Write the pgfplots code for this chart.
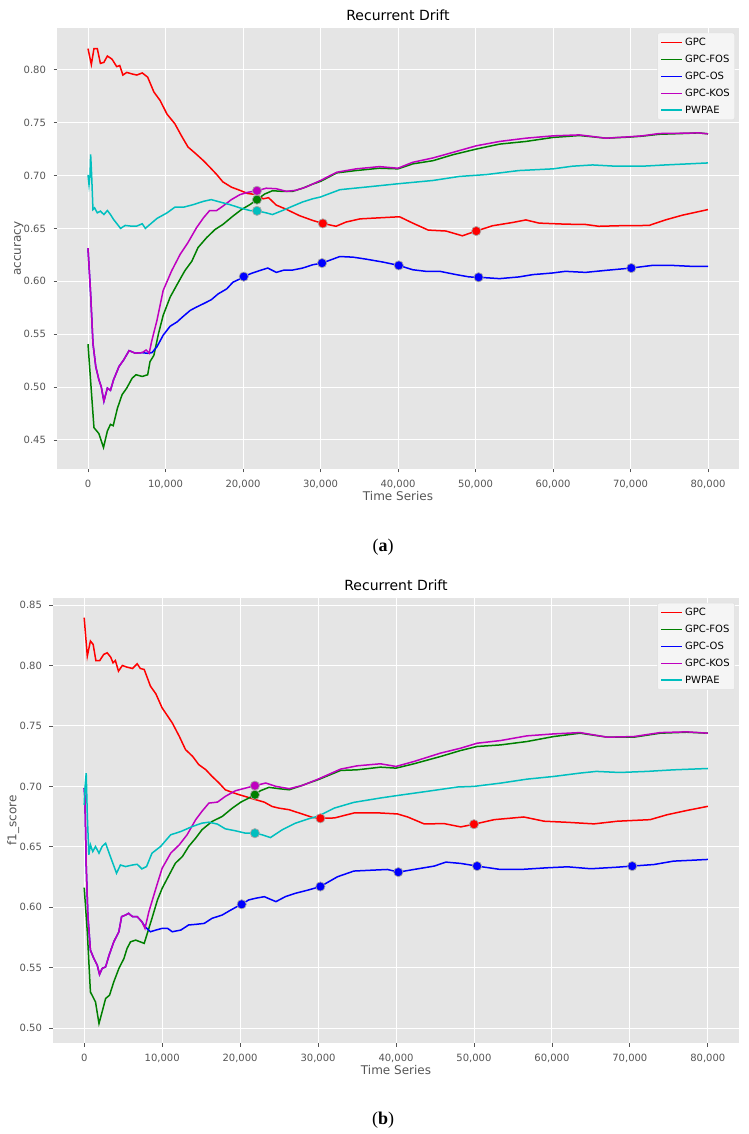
\documentclass[border=0pt]{standalone}
\usepackage{fontspec}
\setmainfont{DejaVu Sans}
\newfontfamily\capfont{Liberation Serif}
\usepackage{pgfplots}
\pgfplotsset{compat=1.18}

\definecolor{panelbg}{HTML}{E5E5E5}
\definecolor{tickgray}{HTML}{555555}
\definecolor{mred}{rgb}{1,0,0}
\definecolor{mgreen}{rgb}{0,0.5,0}
\definecolor{mblue}{rgb}{0,0,1}
\definecolor{mmag}{rgb}{0.75,0,0.75}
\definecolor{mcyan}{rgb}{0,0.75,0.75}

\pgfplotsset{
  curve/.style={line width=1.5pt},
  hilite/.style={only marks, mark=*, mark size=4.6pt, forget plot,
    mark options={fill=#1, draw=gray!70, line width=0.7pt}},
  ggstyle/.style={
    scale only axis,
    axis background/.style={fill=panelbg},
    axis line style={draw=none},
    grid=major,
    major grid style={white, line width=0.9pt},
    tick align=outside, tick pos=left,
    major tick length=3.5pt,
    every tick/.style={tickgray, line width=0.8pt},
    tick label style={font=\fontsize{10}{12}\selectfont, text=tickgray},
    xticklabel style={yshift=-4pt},
    yticklabel style={xshift=-4pt, /pgf/number format/.cd, fixed, fixed zerofill, precision=2},
    /pgf/number format/assume math mode=true,
    xmin=-4, xmax=84,
    xtick={0,10,20,30,40,50,60,70,80},
    xticklabels={0,{10,000},{20,000},{30,000},{40,000},{50,000},{60,000},{70,000},{80,000}},
    every axis title/.style={font=\fontsize{14}{16}\selectfont, at={(axis description cs:0.5,1)}, anchor=base, yshift=7pt},
    every axis x label/.style={font=\fontsize{12}{14}\selectfont, text=tickgray, at={(axis description cs:0.5,0)}, anchor=north, inner sep=0pt, yshift=-22pt},
    legend style={at={(axis description cs:0.994,0.989)}, anchor=north east,
      fill=gray!8, draw=gray!25, rounded corners=2pt,
      font=\fontsize{10}{12}\selectfont, inner xsep=3pt, inner ysep=3pt, row sep=4pt},
    legend cell align=left,
    legend image code/.code={\draw[##1, line width=1.5pt] (0pt,0pt) -- (21pt,0pt);},
  }
}

\begin{document}
\begin{tikzpicture}
\useasboundingbox (0,0) rectangle (748pt,1134pt);

% ---------- (a) accuracy ----------
\begin{axis}[ggstyle,
    at={(57pt,665pt)}, anchor=south west,
    width=682pt, height=441pt,
    ymin=0.4225, ymax=0.8395,
    ytick={0.45,0.50,0.55,0.60,0.65,0.70,0.75,0.80},
    title={Recurrent Drift},
    xlabel={Time Series},
    ylabel={accuracy},
    every axis y label/.style={font=\fontsize{12}{14}\selectfont, text=tickgray, at={(axis description cs:-0.056,0.5)}, anchor=center, rotate=90},
]
\addplot[mred, curve] table {
x y
0 0.820
0.43 0.805
0.77 0.820
1.2 0.820
1.6 0.806
2.05 0.807
2.5 0.813
3.1 0.810
3.7 0.803
4.1 0.804
4.5 0.795
5.0 0.7975
5.7 0.796
6.3 0.795
7.0 0.797
7.7 0.793
8.5 0.779
9.3 0.771
10.2 0.758
11.2 0.749
12.1 0.737
12.9 0.727
14.0 0.720
14.9 0.714
15.7 0.708
16.6 0.701
17.4 0.694
18.5 0.689
19.6 0.686
20.6 0.683
21.7 0.682
22.6 0.678
23.3 0.679
24.3 0.672
25.6 0.668
27.3 0.662
29.0 0.6575
30.3 0.6547
32.0 0.652
33.3 0.656
35.1 0.659
37.6 0.660
40.2 0.661
41.9 0.655
43.9 0.6484
46.2 0.6475
48.3 0.643
50.1 0.6475
52.2 0.6525
54.8 0.6556
56.5 0.658
58.2 0.655
61.6 0.654
64.2 0.6537
65.9 0.652
68.5 0.6525
72.4 0.6528
74.5 0.658
76.7 0.6625
80.0 0.6678
};
\addlegendentry{GPC}
\addplot[mgreen, curve] table {
x y
0 0.5406
0.77 0.4616
1.4 0.456
2.0 0.4428
2.5 0.4584
2.9 0.4647
3.25 0.4634
3.8 0.480
4.4 0.4928
5.0 0.499
5.7 0.5084
6.2 0.5116
7.0 0.510
7.7 0.5116
8.0 0.524
8.5 0.530
9.1 0.5506
9.7 0.5678
10.6 0.585
11.5 0.597
12.5 0.610
13.4 0.619
14.2 0.6319
15.3 0.6412
16.4 0.649
17.4 0.6537
18.7 0.6616
19.8 0.6678
20.9 0.6725
21.8 0.6772
22.8 0.6825
23.8 0.6856
25.1 0.685
26.4 0.685
27.7 0.688
29.0 0.6919
30.0 0.6944
32.1 0.7025
34.6 0.7047
37.6 0.7069
40.0 0.7063
41.9 0.711
44.5 0.714
47.1 0.7197
50.1 0.725
53.1 0.7297
56.5 0.7322
60.0 0.736
63.4 0.7378
65.1 0.7366
66.8 0.7353
69.8 0.7363
71.5 0.7372
73.7 0.739
76.7 0.7397
78.8 0.7403
80.0 0.7394
};
\addlegendentry{GPC-FOS}
\addplot[mblue, curve] table {
x y
0 0.6313
0.34 0.588
0.64 0.5413
1.0 0.5194
1.4 0.507
1.7 0.5006
2.05 0.4866
2.5 0.499
2.9 0.4969
3.3 0.5069
4.0 0.5194
4.6 0.5256
5.3 0.5344
6.1 0.532
7.0 0.5325
7.7 0.5319
8.25 0.5325
8.9 0.5381
9.7 0.549
10.6 0.5575
11.5 0.5616
12.3 0.5669
13.2 0.5725
14.0 0.5756
14.9 0.5788
15.9 0.5825
16.8 0.5881
17.9 0.5928
18.7 0.5991
19.6 0.6022
20.1 0.6044
21.1 0.6075
22.1 0.610
23.2 0.6125
24.3 0.6084
25.3 0.6106
26.4 0.6106
27.7 0.6125
29.0 0.6156
30.2 0.6172
32.5 0.6234
34.2 0.6228
35.9 0.6209
38.1 0.6181
40.1 0.615
41.9 0.6109
43.6 0.6094
45.4 0.6094
47.5 0.6063
49.2 0.6041
50.4 0.6038
53.1 0.6025
55.6 0.6041
57.4 0.6063
59.9 0.6078
61.6 0.6094
64.2 0.6084
66.8 0.6103
70.1 0.6125
72.8 0.615
75.4 0.615
77.9 0.6141
80.0 0.6141
};
\addlegendentry{GPC-OS}
\addplot[mmag, curve] table {
x y
0 0.6313
0.34 0.588
0.64 0.5413
1.0 0.5194
1.4 0.507
1.7 0.5006
2.05 0.4866
2.5 0.499
2.9 0.4969
3.3 0.5069
4.0 0.5194
4.6 0.5256
5.3 0.5344
6.1 0.532
7.0 0.5325
7.5 0.535
7.9 0.532
8.2 0.5428
8.9 0.5631
9.7 0.5913
10.8 0.610
11.9 0.6256
12.9 0.6366
14.0 0.6506
14.9 0.660
15.7 0.6669
16.6 0.6669
17.4 0.671
18.5 0.6772
19.6 0.6819
20.6 0.6841
21.8 0.6856
23.0 0.688
24.3 0.6875
25.6 0.685
26.8 0.686
28.1 0.689
30.0 0.6953
32.1 0.7031
34.6 0.7063
37.6 0.7084
40.0 0.7069
41.9 0.7125
44.5 0.7166
47.1 0.7219
50.1 0.7281
53.1 0.7322
56.5 0.7353
60.0 0.7375
63.4 0.7384
65.1 0.7369
66.8 0.7353
69.8 0.7366
71.5 0.7375
73.7 0.7397
76.7 0.740
78.8 0.7403
80.0 0.7394
};
\addlegendentry{GPC-KOS}
\addplot[mcyan, curve] table {
x y
0 0.7006
0.13 0.6913
0.26 0.700
0.34 0.720
0.47 0.7006
0.64 0.6678
0.85 0.6694
1.2 0.6647
1.6 0.6663
2.05 0.6631
2.5 0.6669
2.9 0.6631
3.3 0.6584
3.8 0.6538
4.2 0.650
4.8 0.6528
5.5 0.6522
6.3 0.6522
7.0 0.6544
7.4 0.650
8.0 0.6538
8.9 0.6594
10.2 0.6647
11.2 0.670
12.3 0.670
13.6 0.6725
14.9 0.6756
15.9 0.6772
17.0 0.675
18.3 0.6725
19.6 0.6694
20.9 0.6669
21.8 0.6666
23.0 0.6647
23.8 0.6631
25.1 0.6669
26.4 0.671
27.7 0.675
29.0 0.678
30.0 0.6797
32.5 0.6866
35.9 0.6891
40.0 0.6922
44.5 0.6953
47.9 0.6991
51.4 0.7009
55.6 0.7047
60.0 0.7063
62.5 0.7088
65.1 0.710
68.1 0.7088
71.5 0.7088
74.5 0.710
80.0 0.7119
};
\addlegendentry{PWPAE}
% highlighted points
\addplot[hilite=mred] coordinates {(30.3,0.6547) (50.1,0.6475)};
\addplot[hilite=mblue] coordinates {(20.1,0.6044) (30.2,0.6172) (40.1,0.615) (50.4,0.6038) (70.1,0.6125)};
\addplot[hilite=mgreen] coordinates {(21.8,0.6772)};
\addplot[hilite=mmag] coordinates {(21.8,0.6856)};
\addplot[hilite=mcyan] coordinates {(21.8,0.6666)};
\end{axis}
\node[font=\capfont\fontsize{18}{20}\selectfont] at (383pt,587pt) {(\textbf{a})};

% ---------- (b) f1_score ----------
\begin{axis}[ggstyle,
    at={(53pt,91pt)}, anchor=south west,
    width=686pt, height=445pt,
    ymin=0.4878, ymax=0.8558,
    ytick={0.50,0.55,0.60,0.65,0.70,0.75,0.80,0.85},
    title={Recurrent Drift},
    xlabel={Time Series},
    ylabel={f1\_score},
    every axis y label/.style={font=\fontsize{12}{14}\selectfont, text=tickgray, at={(axis description cs:-0.058,0.5)}, anchor=center, rotate=90},
]
\addplot[mred, curve] table {
x y
0 0.8395
0.4 0.8077
0.8 0.8202
1.15 0.8174
1.5 0.8041
2.0 0.8041
2.5 0.8091
2.95 0.8105
3.4 0.8069
3.7 0.8022
4.0 0.8041
4.4 0.7953
4.9 0.800
5.5 0.7986
6.2 0.7975
6.8 0.8014
7.2 0.7975
7.7 0.7967
8.5 0.7829
9.2 0.7765
10.0 0.7649
11.3 0.7525
12.2 0.7414
13.0 0.7304
13.9 0.7249
14.7 0.718
15.6 0.7138
16.4 0.7083
17.3 0.7028
18.1 0.6972
19.0 0.695
19.9 0.6931
20.9 0.6912
22.0 0.689
23.1 0.687
24.1 0.6834
25.0 0.682
26.3 0.6807
28.0 0.6771
29.3 0.6743
30.3 0.6736
32.1 0.6739
34.6 0.678
38.0 0.678
40.2 0.6772
41.5 0.6747
43.6 0.669
46.2 0.6692
48.3 0.6665
50.0 0.6687
52.6 0.6725
56.4 0.6747
59.0 0.6712
62.0 0.6703
65.4 0.669
68.4 0.6712
72.6 0.6725
74.8 0.6766
77.4 0.6802
80.0 0.6835
};
\addlegendentry{GPC}
\addplot[mgreen, curve] table {
x y
0 0.6163
0.4 0.5798
0.8 0.530
1.45 0.5218
1.9 0.5039
2.3 0.5135
2.75 0.5246
3.25 0.5273
3.8 0.5384
4.45 0.5494
5.1 0.5577
5.5 0.566
5.95 0.5715
6.6 0.5729
7.7 0.5702
8.1 0.5785
8.7 0.591
9.4 0.6061
10.0 0.6157
10.9 0.6268
11.7 0.6365
12.6 0.642
13.4 0.6503
14.3 0.6572
15.1 0.6641
16.4 0.671
17.7 0.6751
19.0 0.682
20.1 0.687
21.1 0.6903
21.9 0.6931
22.6 0.6964
23.7 0.6992
25.0 0.6981
26.3 0.6972
27.6 0.700
28.8 0.7028
30.0 0.7055
32.9 0.7132
35.0 0.7137
38.0 0.7159
40.0 0.7151
42.3 0.7187
45.7 0.7247
48.3 0.7297
50.4 0.733
53.4 0.7343
56.8 0.7371
60.2 0.7412
63.6 0.744
67.1 0.7407
70.5 0.7407
73.9 0.744
77.3 0.7448
80.0 0.744
};
\addlegendentry{GPC-FOS}
\addplot[mblue, curve] table {
x y
0 0.6986
0.1 0.6903
0.26 0.635
0.47 0.5936
0.8 0.5646
1.24 0.5577
1.67 0.5522
1.97 0.5445
2.3 0.5494
2.75 0.5508
3.2 0.5605
3.8 0.5715
4.45 0.5798
4.8 0.5923
5.3 0.5936
5.7 0.595
6.2 0.5923
6.8 0.5923
7.4 0.5881
7.8 0.584
8.5 0.5798
9.2 0.5812
10.0 0.5826
10.7 0.5826
11.3 0.5798
12.4 0.5812
13.4 0.5854
14.3 0.5859
15.4 0.5867
16.4 0.5909
17.7 0.5936
18.6 0.5970
19.6 0.6006
20.2 0.6025
21.1 0.6061
22.0 0.6075
23.1 0.6088
24.6 0.6047
25.8 0.6088
27.1 0.6116
28.8 0.6144
30.3 0.6172
32.5 0.6253
34.6 0.630
37.2 0.6308
38.9 0.6313
40.3 0.6291
42.3 0.6313
44.9 0.6341
46.4 0.6374
48.3 0.6363
50.4 0.6341
53.4 0.6313
56.0 0.6313
59.4 0.6327
62.0 0.6335
65.0 0.6319
68.4 0.6332
70.3 0.6341
73.1 0.6354
75.6 0.6382
78.2 0.6390
80.0 0.6396
};
\addlegendentry{GPC-OS}
\addplot[mmag, curve] table {
x y
0 0.6986
0.1 0.6903
0.26 0.635
0.47 0.5936
0.8 0.5646
1.24 0.5577
1.67 0.5522
1.97 0.5445
2.3 0.5494
2.75 0.5508
3.2 0.5605
3.8 0.5715
4.45 0.5798
4.8 0.5923
5.3 0.5936
5.7 0.595
6.2 0.5923
6.8 0.5923
7.4 0.5881
7.8 0.5826
8.3 0.5964
9.2 0.6157
10.0 0.6323
11.1 0.6448
12.2 0.6517
13.2 0.660
14.3 0.6724
15.1 0.6793
16.0 0.6862
17.1 0.687
18.1 0.6917
19.4 0.6964
20.7 0.6986
21.9 0.7006
23.3 0.7028
24.6 0.700
26.3 0.6981
28.0 0.7008
30.0 0.706
32.9 0.7143
35.0 0.717
38.0 0.7187
40.0 0.7165
42.3 0.7206
45.7 0.7275
48.3 0.7316
50.4 0.7357
53.4 0.7379
56.8 0.7418
60.2 0.7434
63.6 0.7445
67.1 0.7407
70.5 0.7412
73.9 0.7445
77.3 0.7451
80.0 0.744
};
\addlegendentry{GPC-KOS}
\addplot[mcyan, curve] table {
x y
0 0.6848
0.1 0.6986
0.26 0.711
0.4 0.6765
0.6 0.6434
0.8 0.6517
1.1 0.6461
1.45 0.6503
1.9 0.6448
2.3 0.6503
2.75 0.653
3.2 0.6448
3.6 0.6378
4.15 0.6282
4.65 0.635
5.3 0.6337
6.2 0.635
6.8 0.6356
7.4 0.6318
8.0 0.6337
8.7 0.6448
9.8 0.6503
11.1 0.660
12.4 0.6627
13.9 0.6669
15.1 0.6696
16.0 0.6704
17.1 0.6688
18.1 0.6649
19.4 0.6633
20.7 0.6613
21.9 0.6613
22.8 0.660
23.9 0.6577
25.4 0.6641
27.1 0.6696
28.8 0.6732
30.0 0.6753
32.1 0.6821
34.6 0.6868
38.0 0.6904
40.0 0.6923
44.0 0.6959
47.9 0.6995
50.0 0.700
53.4 0.7027
56.8 0.706
60.2 0.7082
63.6 0.711
65.7 0.7124
68.7 0.7115
72.2 0.7124
75.6 0.7137
80.0 0.7148
};
\addlegendentry{PWPAE}
\addplot[hilite=mred] coordinates {(30.3,0.6736) (50.0,0.6687)};
\addplot[hilite=mblue] coordinates {(20.2,0.6025) (30.3,0.6172) (40.3,0.6291) (50.4,0.6341) (70.3,0.6341)};
\addplot[hilite=mgreen] coordinates {(21.9,0.6931)};
\addplot[hilite=mmag] coordinates {(21.9,0.7006)};
\addplot[hilite=mcyan] coordinates {(21.9,0.6613)};
\end{axis}
\node[font=\capfont\fontsize{18}{20}\selectfont] at (383pt,14pt) {(\textbf{b})};
\end{tikzpicture}
\end{document}
